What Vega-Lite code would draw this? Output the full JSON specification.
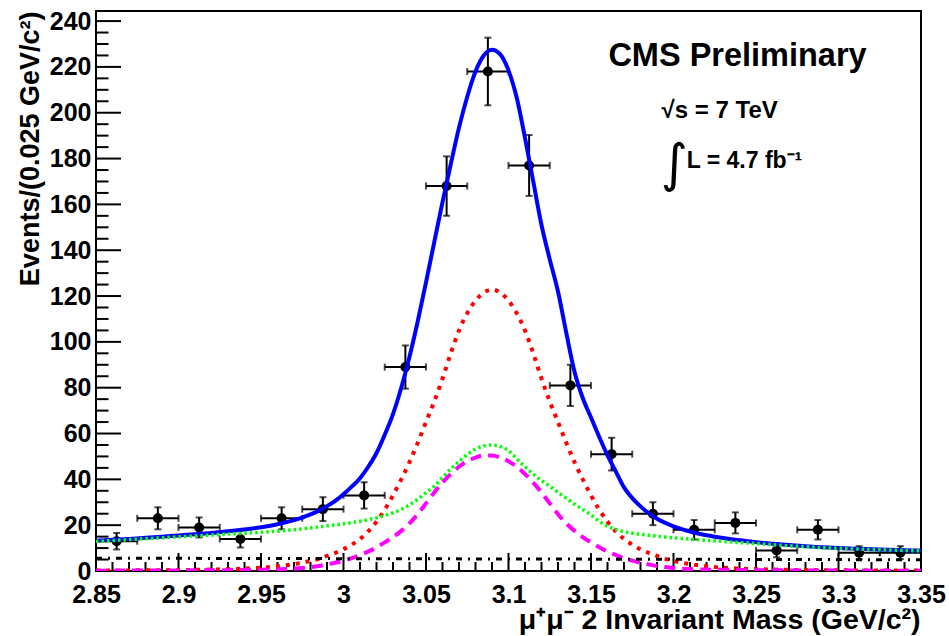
{
  "$schema": "https://vega.github.io/schema/vega-lite/v6.json",
  "width": 825,
  "height": 560,
  "autosize": {"type": "none"},
  "padding": {"left": 96, "top": 11, "right": 28, "bottom": 65},
  "background": "white",
  "config": {"view": {"stroke": "black", "strokeWidth": 2}},
  "datasets": {
    "pts": [
      {"m": 2.8625, "n": 13, "lo": 9.39, "hi": 16.61, "mlo": 2.85, "mhi": 2.875},
      {"m": 2.8875, "n": 23, "lo": 18.2, "hi": 27.8, "mlo": 2.875, "mhi": 2.9},
      {"m": 2.9125, "n": 19, "lo": 14.64, "hi": 23.36, "mlo": 2.9, "mhi": 2.925},
      {"m": 2.9375, "n": 14, "lo": 10.26, "hi": 17.74, "mlo": 2.925, "mhi": 2.95},
      {"m": 2.9625, "n": 23, "lo": 18.2, "hi": 27.8, "mlo": 2.95, "mhi": 2.975},
      {"m": 2.9875, "n": 27, "lo": 21.8, "hi": 32.2, "mlo": 2.975, "mhi": 3.0},
      {"m": 3.0125, "n": 33, "lo": 27.26, "hi": 38.74, "mlo": 3.0, "mhi": 3.025},
      {"m": 3.0375, "n": 89, "lo": 79.57, "hi": 98.43, "mlo": 3.025, "mhi": 3.05},
      {"m": 3.0625, "n": 168, "lo": 155.04, "hi": 180.96, "mlo": 3.05, "mhi": 3.075},
      {"m": 3.0875, "n": 218, "lo": 203.24, "hi": 232.76, "mlo": 3.075, "mhi": 3.1},
      {"m": 3.1125, "n": 177, "lo": 163.7, "hi": 190.3, "mlo": 3.1, "mhi": 3.125},
      {"m": 3.1375, "n": 81, "lo": 72, "hi": 90, "mlo": 3.125, "mhi": 3.15},
      {"m": 3.1625, "n": 51, "lo": 43.86, "hi": 58.14, "mlo": 3.15, "mhi": 3.175},
      {"m": 3.1875, "n": 25, "lo": 20, "hi": 30, "mlo": 3.175, "mhi": 3.2},
      {"m": 3.2125, "n": 18, "lo": 13.76, "hi": 22.24, "mlo": 3.2, "mhi": 3.225},
      {"m": 3.2375, "n": 21, "lo": 16.42, "hi": 25.58, "mlo": 3.225, "mhi": 3.25},
      {"m": 3.2625, "n": 9, "lo": 6, "hi": 12, "mlo": 3.25, "mhi": 3.275},
      {"m": 3.2875, "n": 18, "lo": 13.76, "hi": 22.24, "mlo": 3.275, "mhi": 3.3},
      {"m": 3.3125, "n": 8, "lo": 5.17, "hi": 10.83, "mlo": 3.3, "mhi": 3.325},
      {"m": 3.3375, "n": 8, "lo": 5.17, "hi": 10.83, "mlo": 3.325, "mhi": 3.35}
    ],
    "curves": [
      {"x": 2.85, "blue": 13.2, "green": 12.9, "red": 0.2, "mag": 0.15},
      {"x": 2.86, "blue": 13.6, "green": 13.3, "red": 0.23, "mag": 0.16},
      {"x": 2.87, "blue": 14.0, "green": 13.7, "red": 0.26, "mag": 0.18},
      {"x": 2.88, "blue": 14.5, "green": 14.1, "red": 0.3, "mag": 0.2},
      {"x": 2.89, "blue": 15.0, "green": 14.5, "red": 0.35, "mag": 0.22},
      {"x": 2.90, "blue": 15.5, "green": 14.9, "red": 0.42, "mag": 0.25},
      {"x": 2.91, "blue": 16.0, "green": 15.3, "red": 0.5, "mag": 0.28},
      {"x": 2.92, "blue": 16.6, "green": 15.7, "red": 0.65, "mag": 0.32},
      {"x": 2.93, "blue": 17.3, "green": 16.1, "red": 0.8, "mag": 0.38},
      {"x": 2.94, "blue": 18.1, "green": 16.5, "red": 1.05, "mag": 0.45},
      {"x": 2.95, "blue": 19.1, "green": 16.9, "red": 1.4, "mag": 0.55},
      {"x": 2.96, "blue": 20.4, "green": 17.4, "red": 2.1, "mag": 0.7},
      {"x": 2.97, "blue": 22.2, "green": 18.0, "red": 3.0, "mag": 1.0},
      {"x": 2.975, "blue": 23.3, "green": 18.4, "red": 3.6, "mag": 1.3},
      {"x": 2.98, "blue": 24.7, "green": 18.8, "red": 4.4, "mag": 1.7},
      {"x": 2.985, "blue": 26.3, "green": 19.2, "red": 5.3, "mag": 2.2},
      {"x": 2.99, "blue": 28.3, "green": 19.7, "red": 6.6, "mag": 2.9},
      {"x": 2.995, "blue": 30.6, "green": 20.1, "red": 7.9, "mag": 3.6},
      {"x": 3.0, "blue": 33.5, "green": 20.6, "red": 9.5, "mag": 4.5},
      {"x": 3.005, "blue": 36.8, "green": 21.1, "red": 11.5, "mag": 5.6},
      {"x": 3.01, "blue": 40.5, "green": 21.7, "red": 14, "mag": 7.0},
      {"x": 3.015, "blue": 45.5, "green": 22.4, "red": 17.3, "mag": 8.5},
      {"x": 3.02, "blue": 51.5, "green": 23.2, "red": 21.5, "mag": 10.4},
      {"x": 3.025, "blue": 59.5, "green": 24.2, "red": 26.8, "mag": 12.5},
      {"x": 3.03, "blue": 68.5, "green": 25.4, "red": 33, "mag": 14.8},
      {"x": 3.035, "blue": 80, "green": 26.9, "red": 40, "mag": 17.5},
      {"x": 3.04, "blue": 93.5, "green": 28.9, "red": 47.5, "mag": 20.8},
      {"x": 3.045, "blue": 109, "green": 31.3, "red": 56, "mag": 24.8},
      {"x": 3.05, "blue": 126, "green": 34.2, "red": 65, "mag": 29.5},
      {"x": 3.055, "blue": 143.5, "green": 37.0, "red": 74, "mag": 34.3},
      {"x": 3.06, "blue": 161, "green": 40.8, "red": 84, "mag": 38.6},
      {"x": 3.065, "blue": 177.5, "green": 44.5, "red": 95, "mag": 42.3},
      {"x": 3.07, "blue": 193.5, "green": 47.8, "red": 105, "mag": 45.5},
      {"x": 3.075, "blue": 207, "green": 50.8, "red": 112.5, "mag": 47.9},
      {"x": 3.08, "blue": 218, "green": 53.2, "red": 118, "mag": 49.5},
      {"x": 3.085, "blue": 225, "green": 54.6, "red": 121.5, "mag": 50.4},
      {"x": 3.09, "blue": 227.5, "green": 55.0, "red": 122.8, "mag": 50.4},
      {"x": 3.095, "blue": 225.5, "green": 54.3, "red": 121.5, "mag": 49.5},
      {"x": 3.1, "blue": 218.5, "green": 52.5, "red": 118, "mag": 47.9},
      {"x": 3.105, "blue": 206.5, "green": 49, "red": 112.5, "mag": 45.5},
      {"x": 3.11, "blue": 189, "green": 45.5, "red": 105, "mag": 42.3},
      {"x": 3.115, "blue": 170, "green": 42.3, "red": 95, "mag": 38.6},
      {"x": 3.12, "blue": 151, "green": 39.5, "red": 84, "mag": 34.3},
      {"x": 3.125, "blue": 136, "green": 37.0, "red": 74, "mag": 29.5},
      {"x": 3.13, "blue": 122, "green": 34.3, "red": 65, "mag": 24.8},
      {"x": 3.135, "blue": 104, "green": 31.8, "red": 56, "mag": 20.8},
      {"x": 3.14, "blue": 87, "green": 29.2, "red": 47.5, "mag": 17.5},
      {"x": 3.145, "blue": 75.5, "green": 26.8, "red": 40, "mag": 14.8},
      {"x": 3.15, "blue": 67, "green": 24.5, "red": 33, "mag": 12.5},
      {"x": 3.155, "blue": 58.5, "green": 21.7, "red": 26.8, "mag": 10.4},
      {"x": 3.16, "blue": 50.5, "green": 19.5, "red": 21.5, "mag": 8.5},
      {"x": 3.165, "blue": 43.5, "green": 18.2, "red": 17.3, "mag": 7.0},
      {"x": 3.17, "blue": 36.5, "green": 17.2, "red": 14, "mag": 5.6},
      {"x": 3.175, "blue": 31.8, "green": 16.5, "red": 11.5, "mag": 4.5},
      {"x": 3.18, "blue": 28.2, "green": 16.0, "red": 9.5, "mag": 3.6},
      {"x": 3.185, "blue": 25.2, "green": 15.6, "red": 7.9, "mag": 2.9},
      {"x": 3.19, "blue": 22.8, "green": 15.2, "red": 6.6, "mag": 2.2},
      {"x": 3.195, "blue": 21.0, "green": 14.8, "red": 5.3, "mag": 1.7},
      {"x": 3.2, "blue": 19.5, "green": 14.5, "red": 4.4, "mag": 1.3},
      {"x": 3.205, "blue": 18.3, "green": 14.2, "red": 3.6, "mag": 1.0},
      {"x": 3.21, "blue": 17.2, "green": 13.9, "red": 3.0, "mag": 0.85},
      {"x": 3.22, "blue": 15.6, "green": 13.4, "red": 2.1, "mag": 0.62},
      {"x": 3.23, "blue": 14.4, "green": 12.9, "red": 1.4, "mag": 0.5},
      {"x": 3.24, "blue": 13.4, "green": 12.4, "red": 1.05, "mag": 0.42},
      {"x": 3.25, "blue": 12.6, "green": 12.0, "red": 0.8, "mag": 0.35},
      {"x": 3.26, "blue": 11.9, "green": 11.5, "red": 0.65, "mag": 0.3},
      {"x": 3.27, "blue": 11.3, "green": 11.0, "red": 0.5, "mag": 0.27},
      {"x": 3.28, "blue": 10.8, "green": 10.6, "red": 0.42, "mag": 0.24},
      {"x": 3.29, "blue": 10.4, "green": 10.2, "red": 0.35, "mag": 0.21},
      {"x": 3.3, "blue": 10.0, "green": 9.9, "red": 0.3, "mag": 0.19},
      {"x": 3.31, "blue": 9.7, "green": 9.6, "red": 0.26, "mag": 0.17},
      {"x": 3.32, "blue": 9.5, "green": 9.4, "red": 0.23, "mag": 0.16},
      {"x": 3.33, "blue": 9.3, "green": 9.2, "red": 0.2, "mag": 0.15},
      {"x": 3.34, "blue": 9.1, "green": 9.0, "red": 0.18, "mag": 0.14},
      {"x": 3.35, "blue": 8.9, "green": 8.8, "red": 0.16, "mag": 0.13}
    ],
    "flat": [
      {"x": 2.85, "y": 5.6},
      {"x": 3.35, "y": 4.9}
    ],
    "xmajor": [{"v": 2.9}, {"v": 2.95}, {"v": 3.0}, {"v": 3.05}, {"v": 3.1}, {"v": 3.15}, {"v": 3.2}, {"v": 3.25}, {"v": 3.3}],
    "xminor": [{"v": 2.86}, {"v": 2.87}, {"v": 2.88}, {"v": 2.89}, {"v": 2.91}, {"v": 2.92}, {"v": 2.93}, {"v": 2.94}, {"v": 2.96}, {"v": 2.97}, {"v": 2.98}, {"v": 2.99}, {"v": 3.01}, {"v": 3.02}, {"v": 3.03}, {"v": 3.04}, {"v": 3.06}, {"v": 3.07}, {"v": 3.08}, {"v": 3.09}, {"v": 3.11}, {"v": 3.12}, {"v": 3.13}, {"v": 3.14}, {"v": 3.16}, {"v": 3.17}, {"v": 3.18}, {"v": 3.19}, {"v": 3.21}, {"v": 3.22}, {"v": 3.23}, {"v": 3.24}, {"v": 3.26}, {"v": 3.27}, {"v": 3.28}, {"v": 3.29}, {"v": 3.31}, {"v": 3.32}, {"v": 3.33}, {"v": 3.34}],
    "ymajor": [{"v": 20}, {"v": 40}, {"v": 60}, {"v": 80}, {"v": 100}, {"v": 120}, {"v": 140}, {"v": 160}, {"v": 180}, {"v": 200}, {"v": 220}, {"v": 240}],
    "yminor": [{"v": 5}, {"v": 10}, {"v": 15}, {"v": 25}, {"v": 30}, {"v": 35}, {"v": 45}, {"v": 50}, {"v": 55}, {"v": 65}, {"v": 70}, {"v": 75}, {"v": 85}, {"v": 90}, {"v": 95}, {"v": 105}, {"v": 110}, {"v": 115}, {"v": 125}, {"v": 130}, {"v": 135}, {"v": 145}, {"v": 150}, {"v": 155}, {"v": 165}, {"v": 170}, {"v": 175}, {"v": 185}, {"v": 190}, {"v": 195}, {"v": 205}, {"v": 210}, {"v": 215}, {"v": 225}, {"v": 230}, {"v": 235}]
  },
  "layer": [
    {
      "data": {"name": "pts"},
      "mark": {"type": "circle", "size": 100, "color": "black", "opacity": 1},
      "encoding": {
        "x": {
          "field": "m", "type": "quantitative",
          "title": "μ⁺μ⁻ 2 Invariant Mass (GeV/c²)",
          "scale": {"domain": [2.85, 3.35], "nice": false, "zero": false, "padding": 0},
          "axis": {
            "orient": "bottom", "zindex": 1,
            "values": [2.85, 2.9, 2.95, 3.0, 3.05, 3.1, 3.15, 3.2, 3.25, 3.3, 3.35],
            "format": "~g",
            "ticks": false,
            "domain": false,
            "grid": false,
            "labelFont": "Liberation Sans", "labelFontWeight": "bold", "labelFontSize": 25, "labelColor": "black",
            "labelBaseline": "alphabetic", "labelPadding": 31, "labelOverlap": false, "labelFlush": false,
            "titleFont": "Liberation Sans", "titleFontWeight": "bold", "titleFontSize": 28.5, "titleColor": "black",
            "titleAnchor": "end", "titleAlign": "right", "titleBaseline": "alphabetic", "titleX": 824, "titleY": 57
          }
        },
        "y": {
          "field": "n", "type": "quantitative",
          "title": "Events/(0.025 GeV/c²)",
          "scale": {"domain": [0, 244.4], "nice": false, "zero": false, "padding": 0},
          "axis": {
            "orient": "left", "zindex": 1,
            "values": [0, 20, 40, 60, 80, 100, 120, 140, 160, 180, 200, 220, 240],
            "ticks": false,
            "domain": false,
            "grid": false,
            "labelFont": "Liberation Sans", "labelFontWeight": "bold", "labelFontSize": 25, "labelColor": "black",
            "labelPadding": 5, "labelOverlap": false, "labelFlush": false,
            "titleFont": "Liberation Sans", "titleFontWeight": "bold", "titleFontSize": 27, "titleColor": "black",
            "titleAnchor": "end", "titleAlign": "right", "titleBaseline": "alphabetic", "titleAngle": -90, "titleX": -58, "titleY": 0
          }
        }
      }
    },
    {
      "data": {"name": "xmajor"},
      "mark": {"type": "bar", "color": "black", "size": 2, "opacity": 1},
      "encoding": {
        "x": {"field": "v", "type": "quantitative", "title": "μ⁺μ⁻ 2 Invariant Mass (GeV/c²)"},
        "y": {"datum": 0},
        "y2": {"datum": 7.85}
      }
    },
    {
      "data": {"name": "xminor"},
      "mark": {"type": "bar", "color": "black", "size": 2, "opacity": 1},
      "encoding": {
        "x": {"field": "v", "type": "quantitative", "title": "μ⁺μ⁻ 2 Invariant Mass (GeV/c²)"},
        "y": {"datum": 0},
        "y2": {"datum": 3.93}
      }
    },
    {
      "data": {"name": "ymajor"},
      "mark": {"type": "bar", "color": "black", "size": 2, "opacity": 1, "orient": "horizontal"},
      "encoding": {
        "y": {"field": "v", "type": "quantitative", "title": "Events/(0.025 GeV/c²)"},
        "x": {"datum": 2.85},
        "x2": {"datum": 2.86515}
      }
    },
    {
      "data": {"name": "yminor"},
      "mark": {"type": "bar", "color": "black", "size": 2, "opacity": 1, "orient": "horizontal"},
      "encoding": {
        "y": {"field": "v", "type": "quantitative", "title": "Events/(0.025 GeV/c²)"},
        "x": {"datum": 2.85},
        "x2": {"datum": 2.85758}
      }
    },
    {
      "data": {"name": "pts"},
      "mark": {"type": "errorbar", "ticks": {"size": 7, "thickness": 2, "color": "black"}, "rule": {"strokeWidth": 2, "color": "black"}},
      "encoding": {
        "x": {"field": "mlo", "type": "quantitative", "title": "μ⁺μ⁻ 2 Invariant Mass (GeV/c²)"},
        "x2": {"field": "mhi"},
        "y": {"field": "n", "type": "quantitative", "title": "Events/(0.025 GeV/c²)"}
      }
    },
    {
      "data": {"name": "pts"},
      "mark": {"type": "errorbar", "ticks": {"size": 7, "thickness": 2, "color": "black"}, "rule": {"strokeWidth": 2, "color": "black"}},
      "encoding": {
        "x": {"field": "m", "type": "quantitative", "title": "μ⁺μ⁻ 2 Invariant Mass (GeV/c²)"},
        "y": {"field": "lo", "type": "quantitative", "title": "Events/(0.025 GeV/c²)"},
        "y2": {"field": "hi"}
      }
    },
    {
      "data": {"name": "curves"},
      "mark": {"type": "line", "color": "#0000ff", "strokeWidth": 4, "interpolate": "monotone", "clip": true},
      "encoding": {
        "x": {"field": "x", "type": "quantitative", "title": "μ⁺μ⁻ 2 Invariant Mass (GeV/c²)"},
        "y": {"field": "blue", "type": "quantitative", "title": "Events/(0.025 GeV/c²)"}
      }
    },
    {
      "data": {"name": "curves"},
      "mark": {"type": "line", "color": "#ff0000", "strokeWidth": 4, "strokeDash": [4, 6], "interpolate": "monotone", "clip": true},
      "encoding": {
        "x": {"field": "x", "type": "quantitative", "title": "μ⁺μ⁻ 2 Invariant Mass (GeV/c²)"},
        "y": {"field": "red", "type": "quantitative", "title": "Events/(0.025 GeV/c²)"}
      }
    },
    {
      "data": {"name": "curves"},
      "mark": {"type": "line", "color": "#00ff00", "strokeWidth": 3.5, "strokeDash": [2.5, 3], "interpolate": "monotone", "clip": true},
      "encoding": {
        "x": {"field": "x", "type": "quantitative", "title": "μ⁺μ⁻ 2 Invariant Mass (GeV/c²)"},
        "y": {"field": "green", "type": "quantitative", "title": "Events/(0.025 GeV/c²)"}
      }
    },
    {
      "data": {"name": "curves"},
      "mark": {"type": "line", "color": "#ff00ff", "strokeWidth": 4, "strokeDash": [11, 7], "interpolate": "monotone", "clip": true},
      "encoding": {
        "x": {"field": "x", "type": "quantitative", "title": "μ⁺μ⁻ 2 Invariant Mass (GeV/c²)"},
        "y": {"field": "mag", "type": "quantitative", "title": "Events/(0.025 GeV/c²)"}
      }
    },
    {
      "data": {"name": "flat"},
      "mark": {"type": "line", "color": "black", "strokeWidth": 3, "strokeDash": [6, 6, 2, 6], "clip": true},
      "encoding": {
        "x": {"field": "x", "type": "quantitative", "title": "μ⁺μ⁻ 2 Invariant Mass (GeV/c²)"},
        "y": {"field": "y", "type": "quantitative", "title": "Events/(0.025 GeV/c²)"}
      }
    },
    {
      "data": {"values": [{"t": "CMS Preliminary"}]},
      "mark": {"type": "text", "font": "Liberation Sans", "fontWeight": "bold", "fontSize": 32.5, "align": "center", "baseline": "alphabetic", "color": "black"},
      "encoding": {"x": {"datum": 3.2388}, "y": {"datum": 220.4}, "text": {"field": "t"}}
    },
    {
      "data": {"values": [{"t": "√s = 7 TeV"}]},
      "mark": {"type": "text", "font": "Liberation Sans", "fontWeight": "bold", "fontSize": 24, "align": "left", "baseline": "alphabetic", "color": "black"},
      "encoding": {"x": {"datum": 3.1928}, "y": {"datum": 197.5}, "text": {"field": "t"}}
    },
    {
      "data": {"values": [{"t": "∫"}]},
      "mark": {"type": "text", "font": "DejaVu Sans", "fontSize": 52, "align": "center", "baseline": "middle", "color": "black"},
      "encoding": {"x": {"datum": 3.2003}, "y": {"datum": 177.2}, "text": {"field": "t"}}
    },
    {
      "data": {"values": [{"t": "L = 4.7 fb⁻¹"}]},
      "mark": {"type": "text", "font": "Liberation Sans", "fontWeight": "bold", "fontSize": 23, "align": "left", "baseline": "alphabetic", "color": "black"},
      "encoding": {"x": {"datum": 3.208}, "y": {"datum": 175.7}, "text": {"field": "t"}}
    }
  ]
}
